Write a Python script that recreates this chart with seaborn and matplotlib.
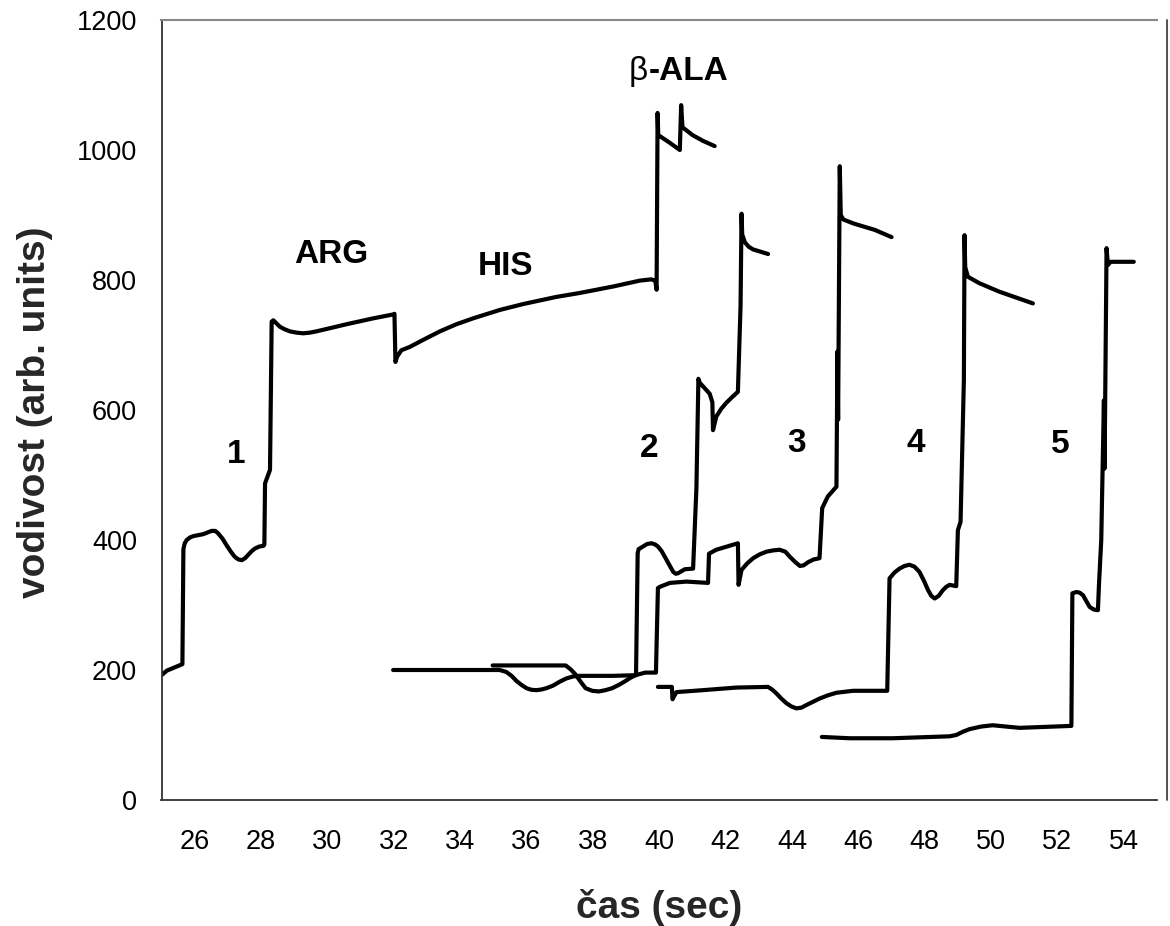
import matplotlib
matplotlib.use("Agg")
import matplotlib.pyplot as plt
import seaborn as sns
from matplotlib.lines import Line2D

# ---------------- data ----------------
trace1_x = [25.0, 25.16, 25.63, 25.66, 25.70, 25.76, 25.86, 25.96, 26.26, 26.51, 26.62, 26.71,
            26.84, 26.96, 27.09, 27.21, 27.32, 27.42, 27.52, 27.61, 27.72, 27.82, 27.95, 28.07,
            28.10, 28.12, 28.27, 28.32, 28.37, 28.47, 28.57, 28.72, 28.87, 29.07, 29.27, 29.47,
            29.67, 30.17, 30.58, 31.38, 31.98, 32.02, 32.05, 32.10, 32.23, 32.48, 32.89, 33.39,
            33.89, 34.39, 35.2, 35.9, 36.9, 37.6, 38.61, 39.41, 39.76, 39.88, 39.92, 39.95,
            39.97, 40.32, 40.62, 40.66, 40.70, 41.0, 41.32, 41.67]
trace1_y = [192, 199, 209, 386, 395, 400, 404, 406, 409, 414, 414, 410,
            402, 392, 382, 374, 370, 369, 372, 377, 383, 387, 390, 391,
            393, 487, 508, 736, 738, 733, 728, 724, 721, 719, 718, 719,
            721, 727, 732, 741, 747, 748, 674, 682, 692, 697, 708, 721,
            732, 741, 754, 763, 774, 780, 790, 799, 801, 799, 785, 1057,
            1023, 1011, 1000, 1069, 1035, 1023, 1014, 1006]

trace2_x = [31.98, 35.19, 35.39, 35.55, 35.7, 35.85, 36.0, 36.15, 36.3, 36.45, 36.6, 36.8,
            37.0, 37.2, 37.4, 37.6, 38.6, 39.3, 39.35, 39.38, 39.51, 39.64, 39.77, 39.88,
            39.96, 40.07, 40.17, 40.3, 40.42, 40.50, 40.57, 40.67, 40.77, 41.02, 41.12, 41.18,
            41.22, 41.52, 41.60, 41.62, 41.72, 41.87, 42.02, 42.2, 42.37, 42.45, 42.48, 42.50,
            42.58, 42.7, 42.83, 43.28]
trace2_y = [200, 200, 197, 191, 183, 177, 172, 169.5, 169, 170, 172, 176,
            182, 187, 190, 191, 191, 192, 380, 386, 390, 394, 395, 393,
            390, 383, 374, 362, 351, 348, 349, 352, 355, 356, 480, 648,
            642, 625, 612, 569, 590, 602, 611, 620, 628, 760, 902, 870,
            858, 851, 847, 840]

trace3_x = [34.98, 37.18, 37.33, 37.48, 37.63, 37.78, 37.98, 38.18, 38.38, 38.58, 38.78, 38.98,
            39.13, 39.28, 39.58, 39.90, 39.96, 40.02, 40.32, 40.82, 41.47, 41.50, 41.72, 42.37,
            42.39, 42.48, 42.65, 42.83, 43.03, 43.23, 43.43, 43.63, 43.8, 43.94, 44.1, 44.24,
            44.35, 44.49, 44.65, 44.83, 44.91, 45.08, 45.34, 45.37, 45.39, 45.44, 45.47, 45.55,
            45.85, 46.5, 47.0]
trace3_y = [207, 207, 201, 193, 182, 172, 168, 167, 169, 172, 177, 183,
            188, 192, 196, 196, 326, 328, 334, 336, 334, 379, 385, 395,
            331, 354, 364, 372, 378, 382, 384, 385, 382, 374, 366, 360,
            361, 366, 370, 372, 449, 467, 482, 690, 585, 975, 900, 893,
            887, 877, 866]

trace4_x = [39.96, 40.38, 40.40, 40.45, 40.52, 41.32, 42.33, 43.28, 43.4, 43.53, 43.68, 43.83,
            43.98, 44.13, 44.28, 44.43, 44.63, 44.83, 45.08, 45.34, 45.84, 46.87, 46.94, 47.09,
            47.24, 47.39, 47.54, 47.69, 47.84, 47.97, 48.1, 48.2, 48.3, 48.42, 48.55, 48.65,
            48.75, 48.95, 49.0, 49.08, 49.18, 49.2, 49.22, 49.3, 49.65, 50.25, 51.26]
trace4_y = [174, 174, 155, 160, 166, 169, 173, 174, 170, 164, 156, 149,
            144, 141, 142, 146, 151, 156, 161, 165, 168, 168, 341, 350,
            356, 360, 362, 359, 351, 338, 323, 314, 310, 314, 323, 328,
            331, 329, 415, 428, 646, 869, 820, 805, 795, 782, 764]

trace5_x = [44.9, 45.74, 47.04, 48.75, 48.95, 49.15, 49.35, 49.7, 50.05, 50.45, 50.86, 52.42,
            52.45, 52.57, 52.67, 52.77, 52.87, 52.97, 53.1, 53.22, 53.25, 53.32, 53.40, 53.42,
            53.48, 53.52, 53.6, 54.3]
trace5_y = [97, 95, 95, 98, 100, 105, 109, 113, 115, 113, 111, 114,
            318, 320, 319, 315, 306, 297, 293, 292, 330, 400, 615, 510,
            849, 823, 828, 828]

traces = [(trace1_x, trace1_y), (trace2_x, trace2_y), (trace3_x, trace3_y),
          (trace4_x, trace4_y), (trace5_x, trace5_y)]

label_texts = ["1", "ARG", "HIS", "2", "3", "4", "5"]
label_x = [27.24, 30.13, 35.36, 39.71, 44.13, 47.73, 52.09]
label_y = [518, 826, 808, 528, 535, 536, 534]

beta_text = "β"
ala_text = "-ALA"
beta_x = 39.67
beta_y = 1108

x_ticks = list(range(26, 55, 2))
y_ticks = list(range(0, 1201, 200))

# ---------------- figure ----------------
sns.set_theme(style="white")
plt.rcParams["font.family"] = ["Liberation Sans", "DejaVu Sans"]

W, H = 1170, 926
fig = plt.figure(figsize=(W / 100, H / 100), dpi=100)
ax = fig.add_axes([161.5 / W, 1 - 800 / H, (1157 - 161.5) / W, (800 - 20) / H])

for tx, ty in traces:
    sns.lineplot(x=tx, y=ty, sort=False, estimator=None, color="black",
                 linewidth=3.0, ax=ax, solid_joinstyle="round", solid_capstyle="round")

for t, lx, ly in zip(label_texts, label_x, label_y):
    ax.text(lx, ly, t, ha="center", va="baseline", fontsize=24, fontweight="bold", color="black")

ax.text(beta_x, beta_y, beta_text, ha="right", va="baseline", fontsize=24,
        fontweight="normal", color="black")
ax.text(beta_x, beta_y, ala_text, ha="left", va="baseline", fontsize=24,
        fontweight="bold", color="black")

ax.set_xlim(25, 55)
ax.set_ylim(0, 1200)
ax.set_xticks(x_ticks)
ax.set_yticks(y_ticks)
ax.tick_params(axis="both", direction="out", length=7.2, width=1.0, color="#555555",
               labelsize=19.5, labelcolor="black")
ax.tick_params(axis="y", pad=10.5)
ax.tick_params(axis="x", pad=14)
ax.grid(False)

for s in ["left", "bottom"]:
    ax.spines[s].set_color("#333333")
    ax.spines[s].set_linewidth(1.3)
ax.spines["top"].set_color("#888888")
ax.spines["top"].set_linewidth(1.5)
ax.spines["right"].set_visible(False)

# outer border line at right of the plot area
fig.add_artist(Line2D([1167 / W, 1167 / W], [1 - 20 / H, 1 - 800 / H],
                      transform=fig.transFigure, color="#444444", linewidth=1.3))

ax.set_xlabel("")
ax.set_ylabel("")
fig.text(659 / W, 1 - 907 / H, "čas (sec)", ha="center", va="center",
         fontsize=28, fontweight="bold")
fig.text(35 / W, 1 - 412 / H, "vodivost (arb. units)", ha="center", va="center",
         rotation=90, fontsize=28, fontweight="bold")

fig.savefig("out.png", dpi=100, facecolor="white")
